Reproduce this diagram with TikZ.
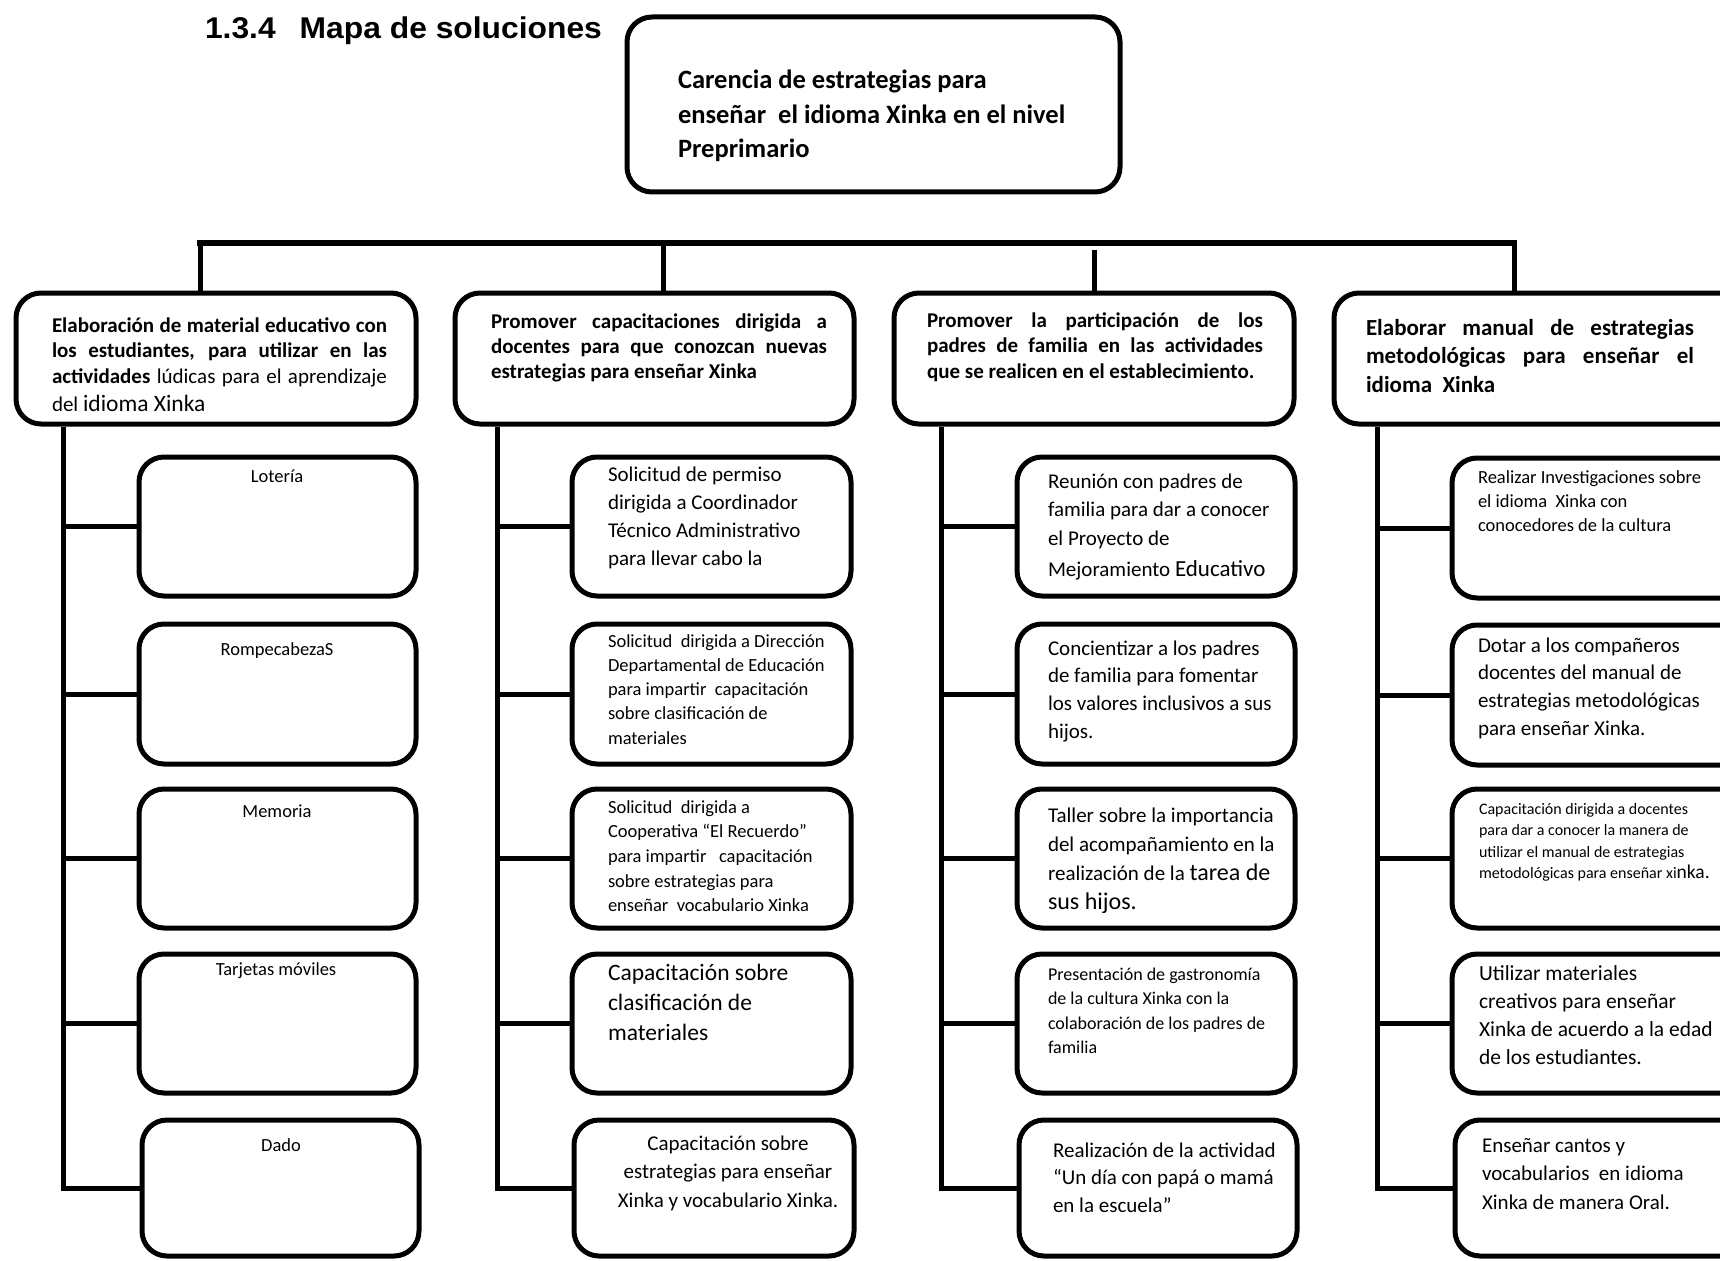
\documentclass[tikz,border=0pt]{standalone}
\usepackage{fontspec}
\setmainfont{Carlito}
\newfontfamily\titlefont[FakeStretch=1.06]{Liberation Sans}
\newcommand{\fsz}[2]{\fontsize{#1pt}{#2pt}\selectfont}
\newcommand{\jl}[2]{\makebox[#1pt][s]{#2}}
\tikzset{
  box/.style={draw=black, line width=5pt, rounded corners=25pt, inner sep=0pt},
  conn/.style={draw=black, line width=5pt},
  txt/.style={anchor=base west, inner sep=0pt, outer sep=0pt},
  ctxt/.style={anchor=base, inner sep=0pt, outer sep=0pt},
}
\newcommand{\bx}[5]{\node[box, minimum width={(#4)-(#2)}, minimum height={(#5)-(#3)}] (#1) at ({((#2)+(#4))/2},{((#3)+(#5))/2}) {};}
\newcommand{\tb}[4]{\node[txt] (#1) at (#2,#3) {\parbox[t]{420pt}{\raggedright #4}};}
\begin{document}
\begin{tikzpicture}[x=1pt,y=-1pt]
\useasboundingbox (0,0) rectangle (1720,1260);
\fill[white] (0,0) rectangle (1720,1260);
\clip (0,0) rectangle (1720,1260);

% title
\node[txt] (title) at (205,39) {\titlefont\bfseries\fontsize{30pt}{33pt}\selectfont 1.3.4\hspace{24pt}Mapa de soluciones};

% top box
\bx{top}{627}{17}{1120}{192}
\tb{ttop}{678}{89}{\bfseries\fsz{26.5}{34.5}Carencia de estrategias para\\ enseñar\ \ el idioma Xinka en el nivel\\ Preprimario}

% bar
\coordinate (barL) at (197,243);
\coordinate (barR) at (1517,243);
\draw[line width=6pt] (barL) -- (barR);
\coordinate (t1) at (200,243);
\coordinate (t2) at (663,243);
\coordinate (t3) at (1094,250);
\coordinate (t4) at (1514,243);

% level 2
\bx{L1}{16}{293}{416}{424}
\bx{L2}{455}{293}{854}{424}
\bx{L3}{894}{293}{1294}{424}
\bx{L4}{1334}{293}{1745}{424}
\draw[conn] (t1) -- (t1 |- L1.north);
\draw[conn] (t2) -- (t2 |- L2.north);
\draw[conn] (t3) -- (t3 |- L3.north);
\draw[conn] (t4) -- (t4 |- L4.north);

\tb{tL1}{52}{332}{\bfseries\fsz{21}{25.5}\jl{335}{Elaboración de material educativo con}\\ \jl{335}{los estudiantes, para utilizar en las}\\ \jl{335}{actividades \mdseries lúdicas para el aprendizaje}\\[2.5pt] \mdseries del {\fsz{23.5}{26}idioma Xinka}}
\tb{tL2}{491}{328}{\bfseries\fsz{21}{25}\jl{336}{Promover capacitaciones dirigida a}\\ \jl{336}{docentes para que conozcan nuevas}\\ estrategias para enseñar Xinka}
\tb{tL3}{927}{327}{\bfseries\fsz{21}{25.5}\jl{336}{Promover la participación de los}\\ \jl{336}{padres de familia en las actividades}\\ que se realicen en el establecimiento.}
\tb{tL4}{1366}{335}{\bfseries\fsz{23}{28.5}\jl{328}{Elaborar manual de estrategias}\\ \jl{328}{metodológicas para enseñar el}\\ idioma\ \ Xinka}

% spines
\coordinate (s1) at (63,0);
\coordinate (s2) at (497,0);
\coordinate (s3) at (941,0);
\coordinate (s4) at (1377,0);

% level 3 boxes
\bx{A1}{139}{457}{416}{596}
\bx{A2}{139}{624}{416}{764}
\bx{A3}{139}{789}{416}{928}
\bx{A4}{139}{954}{416}{1093}
\bx{A5}{142}{1120}{419}{1256}
\bx{B1}{572}{457}{851}{596}
\bx{B2}{572}{624}{851}{764}
\bx{B3}{572}{789}{851}{928}
\bx{B4}{572}{954}{851}{1093}
\bx{B5}{574}{1120}{854}{1256}
\bx{C1}{1017}{457}{1295}{596}
\bx{C2}{1017}{624}{1295}{764}
\bx{C3}{1017}{789}{1295}{928}
\bx{C4}{1017}{954}{1295}{1093}
\bx{C5}{1019}{1120}{1297}{1256}
\bx{D1}{1452}{458}{1745}{598}
\bx{D2}{1452}{625}{1745}{765}
\bx{D3}{1452}{789}{1745}{928}
\bx{D4}{1452}{954}{1745}{1093}
\bx{D5}{1455}{1120}{1745}{1256}

% connectors
\draw[conn] (L1.south -| s1) |- (A5.west);
\draw[conn] (L2.south -| s2) |- (B5.west);
\draw[conn] (L3.south -| s3) |- (C5.west);
\draw[conn] (L4.south -| s4) |- (D5.west);
\foreach \k in {1,2,3,4}{
  \draw[conn] (s1 |- A\k.west) -- (A\k.west);
  \draw[conn] (s2 |- B\k.west) -- (B\k.west);
  \draw[conn] (s3 |- C\k.west) -- (C\k.west);
  \draw[conn] (s4 |- D\k.west) -- (D\k.west);
}

% column 1 texts
\node[ctxt] (tA1) at (277,482) {\fsz{18.5}{22}Lotería};
\node[ctxt] (tA2) at (277,655) {\fsz{18.5}{22}RompecabezaS};
\node[ctxt] (tA3) at (277,817) {\fsz{18.5}{22}Memoria};
\node[ctxt] (tA4) at (276,975) {\fsz{18.5}{22}Tarjetas móviles};
\node[ctxt] (tA5) at (281,1151) {\fsz{18.5}{22}Dado};

% column 2 texts
\tb{tB1}{608}{481}{\fsz{21}{28.3}Solicitud de permiso\\ dirigida a Coordinador\\ Técnico Administrativo\\ para llevar cabo la}
\tb{tB2}{608}{647}{\fsz{18.5}{24.3}Solicitud\ \ dirigida a Dirección\\ Departamental de Educación\\ para impartir\ \ capacitación\\ sobre clasificación de\\ materiales}
\tb{tB3}{608}{813}{\fsz{18.5}{24.7}Solicitud\ \ dirigida a\\ Cooperativa “El Recuerdo”\\ para impartir\ \ \ capacitación\\ sobre estrategias para\\ enseñar\ \ vocabulario Xinka}
\tb{tB4}{608}{980}{\fsz{23.5}{30}Capacitación sobre\\ clasificación de\\ materiales}
\node[ctxt] (tB5) at (728,1150) {\parbox[t]{300pt}{\centering\fsz{21}{28.5}Capacitación sobre\\ estrategias para enseñar\\ Xinka y vocabulario Xinka.}};

% column 3 texts
\tb{tC1}{1048}{488}{\fsz{21}{28.5}Reunión con padres de\\ familia para dar a conocer\\ el Proyecto de\\[2.5pt] Mejoramiento {\fsz{23}{28}Educativo}}
\tb{tC2}{1048}{655}{\fsz{21}{27.7}Concientizar a los padres\\ de familia para fomentar\\ los valores inclusivos a sus\\ hijos.}
\tb{tC3}{1048}{822}{\fsz{21}{29.3}Taller sobre la importancia\\ del acompañamiento en la\\ realización de la {\fsz{24}{29}tarea de}\\ {\fsz{24}{29}sus hijos.}}
\tb{tC4}{1048}{980}{\fsz{18}{24.5}Presentación de gastronomía\\ de la cultura Xinka con la\\ colaboración de los padres de\\ familia}
\tb{tC5}{1053}{1157}{\fsz{21}{27.5}Realización de la actividad\\ “Un día con papá o mamá\\ en la escuela”}

% column 4 texts
\tb{tD1}{1478}{483}{\fsz{18.5}{24}Realizar Investigaciones sobre\\ el idioma\ \ Xinka con\\ conocedores de la cultura}
\tb{tD2}{1478}{652}{\fsz{21}{27.7}Dotar a los compañeros\\ docentes del manual de\\ estrategias metodológicas\\ para enseñar Xinka.}
\tb{tD3}{1479}{814}{\fsz{16}{21.5}Capacitación dirigida a docentes\\ para dar a conocer la manera de\\ utilizar el manual de estrategias\\ metodológicas para enseñar xi{\fsz{19.5}{21.5}nka.}}
\tb{tD4}{1479}{980}{\fsz{21.5}{28.3}Utilizar materiales\\ creativos para enseñar\\ Xinka de acuerdo a la edad\\ de los estudiantes.}
\tb{tD5}{1482}{1152}{\fsz{21}{28.5}Enseñar cantos y\\ vocabularios\ \ en idioma\\ Xinka de manera Oral.}
\end{tikzpicture}
\end{document}
